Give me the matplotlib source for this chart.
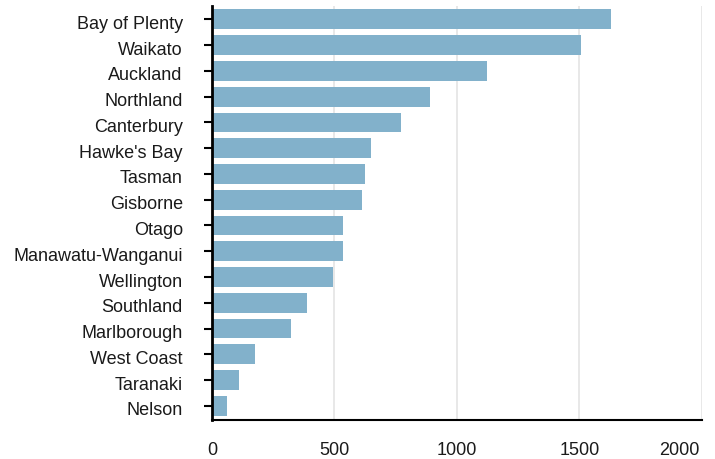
import matplotlib
matplotlib.use('Agg')
import matplotlib.pyplot as plt
import matplotlib.transforms as mtransforms

regions = ['Bay of Plenty', 'Waikato', 'Auckland', 'Northland', 'Canterbury',
           "Hawke's Bay", 'Tasman', 'Gisborne', 'Otago', 'Manawatu-Wanganui',
           'Wellington', 'Southland', 'Marlborough', 'West Coast', 'Taranaki', 'Nelson']
values = [1630, 1507, 1122, 890, 771, 649, 624, 612, 535, 535,
          494, 388, 322, 176, 110, 61]
xticks = [0, 500, 1000, 1500, 2000]

plt.rcParams['font.family'] = ['Liberation Sans', 'DejaVu Sans']

fig = plt.figure(figsize=(7.15, 4.6), dpi=100)
ax = fig.add_axes([0.2965, 0.0848, 0.6853, 0.9])

ypos = list(range(len(regions)))
ax.barh(ypos, values, height=0.77, color='#82b1cb', zorder=2)
ax.set_yticks(ypos)
ax.set_yticklabels(regions, fontsize=13, color='#1a1a1a')
ax.set_ylim(len(regions) - 0.45, -0.52)
ax.set_xlim(0, 2000)
ax.set_xticks(xticks)
ax.set_xticklabels([str(t) for t in xticks], fontsize=13, color='#1a1a1a')

ax.grid(axis='x', color='#e6e6e6', linewidth=1.3, zorder=0)
ax.grid(axis='y', visible=False)
for side in ['top', 'right']:
    ax.spines[side].set_visible(False)
ax.spines['left'].set_linewidth(2)
ax.spines['left'].set_zorder(3)
ax.spines['bottom'].set_linewidth(1.5)
ax.tick_params(axis='y', length=6, width=1.5, pad=15, direction='out')
ax.tick_params(axis='x', length=0, pad=15)

# y labels sit a touch below the bar centre in the reference
shift = mtransforms.ScaledTranslation(0, -2 / 100, fig.dpi_scale_trans)
for lab in ax.get_yticklabels():
    lab.set_transform(lab.get_transform() + shift)

# last x label is pulled in so it stays inside the figure
last = ax.get_xticklabels()[-1]
last.set_horizontalalignment('right')
last.set_transform(last.get_transform() + mtransforms.ScaledTranslation(-2 / 100, 0, fig.dpi_scale_trans))

fig.savefig('out.png', dpi=100)
